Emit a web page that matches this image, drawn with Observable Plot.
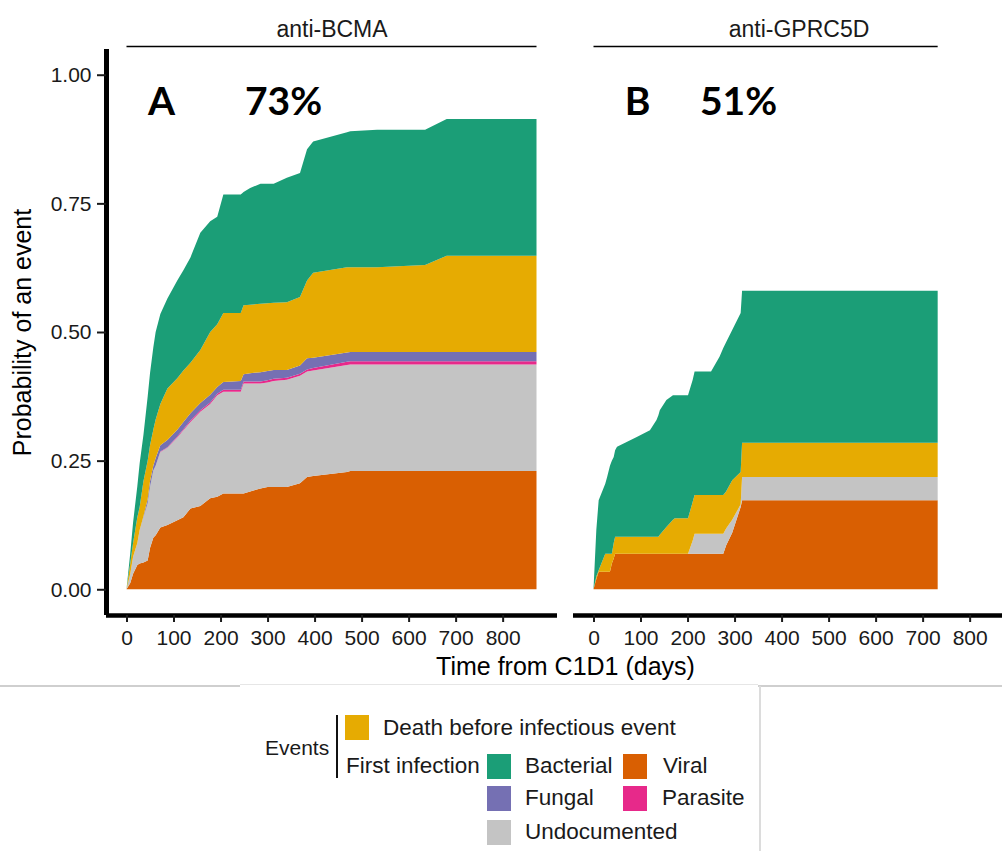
<!DOCTYPE html>
<html><head><meta charset="utf-8">
<script src="https://cdn.jsdelivr.net/npm/d3@7"></script>
<script src="https://cdn.jsdelivr.net/npm/@observablehq/plot@0.6"></script>
<style>
html,body{margin:0;padding:0;background:#fff;overflow:hidden;width:1002px;height:851px;}
#wrap{position:relative;width:1002px;height:851px;overflow:hidden;font-family:"Liberation Sans",Arial,sans-serif;}
#chart{position:absolute;left:0;top:0;}
#chart svg{max-width:none !important;}
g[aria-label="x-axis label"] text, g[aria-label="y-axis label"] text{font-size:25px;fill:#000;}
.lg{position:absolute;font-size:22.5px;color:#1a1a1a;line-height:1;white-space:nowrap;}
.sw{position:absolute;width:24px;height:25px;}
.edge{position:absolute;}
</style></head><body><div id="wrap"><div id="chart"></div></div>
<script>
// ---------- data ----------
const facets = ["anti-BCMA", "anti-GPRC5D"];
const panelLetters = ["A", "B"];
const panelTotals = ["73%", "51%"];
const stackOrder = ["Viral", "Undocumented", "Parasite", "Fungal", "Death before infectious event", "Bacterial"];
const eventColors = ["#d95f02", "#c4c4c4", "#e7298a", "#7570b3", "#e6ab02", "#1b9e77"];
const xTicks = [0, 100, 200, 300, 400, 500, 600, 700, 800];
const yTicks = [0, 0.25, 0.5, 0.75, 1];

// anti-BCMA: cumulative incidence of each event type (days from C1D1)
const timeA = [0,8,14,23,28,36,45,50,57,62,72,87,108,121,136,157,178,193,206,243,249,263,285,300,313,341,369,384,397,469,476,533,635,681,872];
const viralA = [0,.012,.030,.047,.050,.052,.056,.080,.100,.105,.120,.125,.134,.140,.157,.162,.177,.180,.186,.186,.186,.190,.196,.199,.199,.199,.206,.218,.220,.228,.230,.230,.230,.230,.230];
const undocA = [0,.018,.033,.043,.065,.088,.111,.119,.131,.135,.147,.150,.161,.169,.168,.183,.183,.197,.198,.198,.214,.210,.204,.203,.206,.208,.209,.205,.205,.208,.207,.207,.207,.207,.207];
const parasiteA = [0,0,0,0,0,0,0,0,0,0,.001,.001,.002,.002,.003,.003,.003,.003,.004,.004,.004,.004,.004,.004,.004,.004,.004,.004,.005,.006,.006,.006,.006,.006,.006];
const fungalA = [0,0,0,0,0,.002,.008,.011,.009,.015,.012,.014,.013,.014,.014,.014,.015,.013,.015,.017,.014,.016,.018,.018,.017,.015,.016,.022,.020,.018,.018,.018,.018,.018,.018];
const deathA = [0,.020,.027,.050,.045,.068,.075,.070,.070,.075,.080,.100,.100,.100,.098,.103,.122,.122,.134,.132,.134,.133,.133,.132,.131,.132,.133,.151,.165,.166,.165,.165,.169,.187,.187];
const bacterialA = [0,.020,.040,.060,.085,.090,.124,.140,.160,.170,.175,.175,.190,.195,.205,.228,.215,.209,.230,.230,.220,.227,.233,.232,.231,.242,.241,.255,.255,.262,.264,.267,.263,.266,.266];

// anti-GPRC5D
const timeB = [0,6,11,25,29,35,39,43,46,50,92,120,134,138,141,155,169,173,201,211,215,250,268,276,282,295,313,316,732];
const viralB = [0,.020,.034,.034,.034,.034,.050,.060,.069,.069,.069,.069,.069,.069,.069,.069,.069,.069,.069,.069,.069,.069,.069,.069,.085,.110,.160,.173,.173];
const undocB = [0,0,0,0,0,0,0,0,0,0,0,0,0,0,0,0,0,0,0,.026,.039,.039,.039,.039,.033,.025,.005,.045,.045];
const deathB = [0,.005,.003,.035,.035,.035,.019,.030,.033,.033,.033,.033,.033,.033,.037,.052,.066,.069,.069,.075,.075,.075,.075,.075,.072,.077,.063,.067,.067];
const bacterialB = [0,.090,.136,.136,.149,.171,.181,.167,.168,.175,.194,.207,.227,.236,.242,.247,.242,.239,.239,.237,.240,.240,.269,.286,.290,.292,.309,.295,.295];

// legend texts
const legendGroups = ["Events", "First infection"];
const legendItems = ["Death before infectious event", "Bacterial", "Viral", "Fungal", "Parasite", "Undocumented"];

// ---------- build table ----------
const rows = [];
function addSeries(facet, times, series) {
  for (const [event, vals] of series) times.forEach((t, i) => rows.push({facet, event, t, p: vals[i]}));
}
addSeries(facets[0], timeA, [["Viral", viralA], ["Undocumented", undocA], ["Parasite", parasiteA], ["Fungal", fungalA], ["Death before infectious event", deathA], ["Bacterial", bacterialA]]);
addSeries(facets[1], timeB, [["Viral", viralB], ["Undocumented", undocB], ["Death before infectious event", deathB], ["Bacterial", bacterialB]]);

const lastTimes = [timeA[timeA.length - 1], timeB[timeB.length - 1]];
const maxT = Math.max(...lastTimes);
const xDomain = [-0.05 * maxT, 1.05 * maxT];
const yDomain = [-0.05, 1.05];
const stripRows = facets.map((f, i) => ({facet: f, end: lastTimes[i]}));
const letterRows = facets.map((f, i) => ({facet: f, letter: panelLetters[i], total: panelTotals[i]}));
const bigText = {fx: "facet", frameAnchor: "top-left", textAnchor: "middle", lineAnchor: "middle", fontFamily: "Lato, 'Open Sans', sans-serif", fontWeight: 700, fontSize: 39, fill: "#000"};

const chart = Plot.plot({
  width: 1025, height: 684,
  marginLeft: 105, marginRight: 0, marginTop: 49, marginBottom: 69,
  style: {fontFamily: "'Liberation Sans', Arial, sans-serif", fontSize: "21px", color: "#1a1a1a", background: "#fff", overflow: "visible"},
  x: {domain: xDomain},
  y: {domain: yDomain},
  fx: {domain: facets, paddingInner: 0.034, paddingOuter: 0},
  color: {domain: stackOrder, range: eventColors},
  marks: [
    Plot.areaY(rows, {x: "t", y: "p", fill: "event", fx: "facet", order: stackOrder, curve: "linear"}),
    Plot.ruleX([xDomain[0]], {fx: () => facets[0], stroke: "#000", strokeWidth: 5}),
    Plot.ruleY([yDomain[0]], {stroke: "#000", strokeWidth: 4.5}),
    Plot.ruleY(stripRows, {fx: "facet", y: () => yDomain[1], x1: () => 0, x2: "end", dy: -3, stroke: "#000", strokeWidth: 1.5}),
    Plot.axisFx({anchor: "top", label: null, tickSize: 0, tickPadding: 13, fontSize: 23}),
    Plot.axisX({ticks: xTicks, tickSize: 7, tickPadding: 8, strokeWidth: 2, label: "Time from C1D1 (days)", labelAnchor: "center", labelOffset: 59, labelArrow: "none"}),
    Plot.axisY({ticks: yTicks, tickFormat: d3.format(".2f"), tickSize: 9, tickPadding: 6, strokeWidth: 2, label: "Probability of an event", labelAnchor: "center", labelOffset: 93, labelArrow: "none"}),
    Plot.text(letterRows.slice(0, 1), {...bigText, text: "letter", dx: 55, dy: 53}),
    Plot.text(letterRows.slice(0, 1), {...bigText, text: "total", dx: 177, dy: 53}),
    Plot.text(letterRows.slice(1, 2), {...bigText, text: "letter", dx: 64, dy: 53}),
    Plot.text(letterRows.slice(1, 2), {...bigText, text: "total", dx: 165, dy: 53})
  ]
});
document.getElementById("chart").appendChild(chart);

// ---------- legend (HTML, below the SVG) ----------
const wrap = document.getElementById("wrap");
function addEl(cls, text, left, top, extra) {
  const d = document.createElement("div");
  d.className = cls;
  if (text) d.textContent = text;
  d.style.left = left + "px"; d.style.top = top + "px";
  Object.assign(d.style, extra || {});
  wrap.appendChild(d);
}
// faint screenshot edges of the original composite
addEl("edge", "", 0, 685, {width: "240px", height: "2px", background: "#cfcfcf"});
addEl("edge", "", 240, 684, {width: "518px", height: "1px", background: "#e6e6e6"});
addEl("edge", "", 758, 685, {width: "244px", height: "2px", background: "#cfcfcf"});
addEl("edge", "", 759, 686, {width: "2px", height: "165px", background: "#dcdcdc"});

const colorOf = e => eventColors[stackOrder.indexOf(e === legendItems[0] ? "Death before infectious event" : e)];
addEl("lg", legendGroups[0], 265, 737, {fontSize: "21px"});
addEl("edge", "", 336, 715, {width: "2px", height: "63px", background: "#111"});
addEl("lg", legendGroups[1], 346, 755);
const itemPos = [[345, 715, 383, 717], [487, 754, 525, 755], [623, 754, 663, 755], [487, 786, 525, 787], [623, 786, 662, 787], [487, 820, 525, 821]];
legendItems.forEach((name, i) => {
  const [sx, sy, tx, ty] = itemPos[i];
  addEl("sw", "", sx, sy, {background: colorOf(name)});
  addEl("lg", name, tx, ty);
});
</script></body></html>
